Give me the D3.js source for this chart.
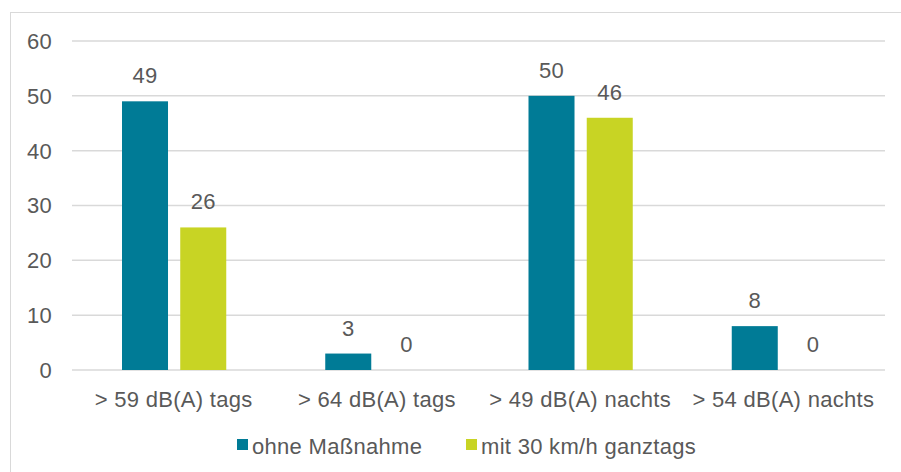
<!DOCTYPE html>
<html>
<head>
<meta charset="utf-8">
<script src="https://cdn.jsdelivr.net/npm/d3@7"></script>
<style>
  body { margin: 0; background: #fff; }
  text { font-family: "Liberation Sans", Arial, sans-serif; fill: #595959; letter-spacing: 0.3px; }
</style>
</head>
<body>
<div id="chart"></div>
<script>
// data
const categories = ["> 59 dB(A) tags", "> 64 dB(A) tags", "> 49 dB(A) nachts", "> 54 dB(A) nachts"];
const seriesNames = ["ohne Maßnahme", "mit 30 km/h ganztags"];
const ohneMassnahme = [49, 3, 50, 8];
const mit30 = [26, 0, 46, 0];
const yTicks = [0, 10, 20, 30, 40, 50, 60];
const colors = ["#007B96", "#C8D424"];

const width = 901, height = 472;
const plot = { left: 72, right: 885, top: 41, bottom: 370 };
const fs = "22px";

const svg = d3.select("#chart").append("svg")
  .attr("width", width).attr("height", height);

// outer frame
svg.append("rect")
  .attr("x", 10.5).attr("y", 12.5)
  .attr("width", 900).attr("height", 470)
  .attr("fill", "none").attr("stroke", "#d9d9d9").attr("stroke-width", 1);

let y = d3.scaleLinear().domain([0, 60]).range([plot.bottom, plot.top]);
let x0 = d3.scaleBand().domain(categories).range([plot.left, plot.right]).padding(0);
let x1 = d3.scaleBand().domain(seriesNames).range([50, x0.bandwidth() - 49]).paddingInner(0.21);

// gridlines
svg.append("g").selectAll("line").data(yTicks).enter().append("line")
  .attr("x1", plot.left).attr("x2", plot.right)
  .attr("y1", d => y(d)).attr("y2", d => y(d))
  .attr("stroke", "#d9d9d9").attr("stroke-width", 1.5);

// y labels
svg.append("g").selectAll("text").data(yTicks).enter().append("text")
  .attr("x", 52).attr("y", d => y(d)).attr("dy", "0.36em")
  .attr("text-anchor", "end").style("font-size", fs)
  .text(d => d);

const series = [ohneMassnahme, mit30];
const rows = [];
categories.forEach((c, i) => {
  seriesNames.forEach((s, j) => rows.push({ cat: c, s: s, j: j, v: series[j][i] }));
});

let g = svg.append("g");
g.selectAll("rect").data(rows).enter().append("rect")
  .attr("x", d => x0(d.cat) + x1(d.s))
  .attr("y", d => y(d.v))
  .attr("width", x1.bandwidth())
  .attr("height", d => y(0) - y(d.v))
  .attr("fill", d => colors[d.j]);

// value labels
g.selectAll("text").data(rows).enter().append("text")
  .attr("x", d => x0(d.cat) + x1(d.s) + x1.bandwidth() / 2)
  .attr("y", d => y(d.v) - 18)
  .attr("text-anchor", "middle").style("font-size", fs)
  .text(d => d.v);

// category labels
svg.append("g").selectAll("text").data(categories).enter().append("text")
  .attr("x", d => x0(d) + x0.bandwidth() / 2)
  .attr("y", 407)
  .attr("text-anchor", "middle").style("font-size", fs)
  .text(d => d);

// legend
const legendX = [237, 466];
let lg = svg.append("g").selectAll("g").data(seriesNames).enter().append("g")
  .attr("transform", (d, i) => "translate(" + legendX[i] + ",439)");
lg.append("rect").attr("width", 11).attr("height", 11).attr("fill", (d, i) => colors[i]);
lg.append("text").attr("x", 15).attr("y", 14.5)
  .style("font-size", fs).text(d => d);
</script>
</body>
</html>
